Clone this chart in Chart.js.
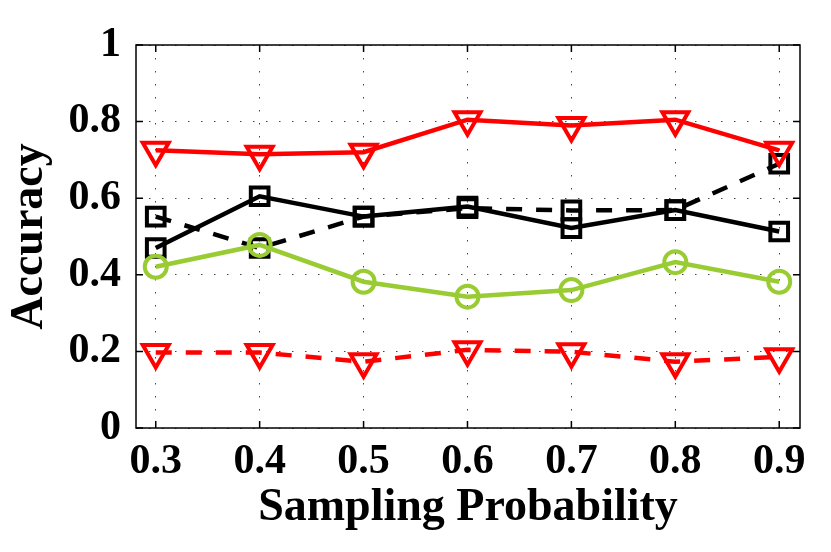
<!DOCTYPE html>
<html>
<head>
<meta charset="utf-8">
<script src="https://cdn.jsdelivr.net/npm/chart.js@4/dist/chart.umd.min.js"></script>
<style>
  html, body { margin: 0; padding: 0; background: #fff; }
  #wrap { width: 831px; height: 552px; position: relative; }
</style>
</head>
<body>
<div id="wrap"><canvas id="accChart" width="831" height="552"></canvas></div>
<script>
// Данные
const probs = [0.3, 0.4, 0.5, 0.6, 0.7, 0.8, 0.9];
const xTickLabels = ['0.3', '0.4', '0.5', '0.6', '0.7', '0.8', '0.9'];
const yTickLabels = ['0', '0.2', '0.4', '0.6', '0.8', '1'];

const redSolid   = [0.725, 0.715, 0.720, 0.805, 0.790, 0.805, 0.725];
const blackSolid = [0.470, 0.605, 0.552, 0.578, 0.522, 0.569, 0.513];
const blackDash  = [0.552, 0.470, 0.552, 0.574, 0.568, 0.569, 0.690];
const greenSolid = [0.421, 0.478, 0.382, 0.343, 0.360, 0.433, 0.382];
const redDash    = [0.197, 0.197, 0.173, 0.204, 0.199, 0.173, 0.186];

const RED = '#ff0000';
const GREEN = '#99cc33';
const FONT = '"Liberation Serif", "Times New Roman", serif';

function pts(vals) {
    return vals.map((v, i) => ({ x: probs[i], y: v }));
}

function series(label, vals, color, style, dashed, radius, order) {
    return {
        label: label,
        data: pts(vals),
        borderColor: color,
        backgroundColor: 'rgba(0,0,0,0)',
        borderWidth: 4.5,
        borderDash: dashed ? [16, 14] : [],
        pointStyle: style,
        pointRotation: style === 'triangle' ? 180 : 0,
        pointRadius: radius,
        pointBorderWidth: 4,
        pointBorderColor: color,
        pointBackgroundColor: 'rgba(0,0,0,0)',
        tension: 0,
        fill: false,
        order: order
    };
}

// Рамка и внутренние засечки как в MATLAB
const boxPlugin = {
    id: 'box',
    afterDraw(chart) {
        const { ctx, chartArea: a, scales: { x, y } } = chart;
        ctx.save();
        ctx.strokeStyle = '#000';
        ctx.lineWidth = 1.5;
        ctx.setLineDash([]);
        ctx.strokeRect(a.left, a.top, a.right - a.left, a.bottom - a.top);
        const t = 7;
        ctx.beginPath();
        probs.forEach(p => {
            const px = x.getPixelForValue(p);
            ctx.moveTo(px, a.bottom); ctx.lineTo(px, a.bottom - t);
            ctx.moveTo(px, a.top); ctx.lineTo(px, a.top + t);
        });
        yTickLabels.forEach(l => {
            const py = y.getPixelForValue(parseFloat(l));
            ctx.moveTo(a.left, py); ctx.lineTo(a.left + t, py);
            ctx.moveTo(a.right, py); ctx.lineTo(a.right - t, py);
        });
        ctx.stroke();
        ctx.restore();
    }
};

new Chart(document.getElementById('accChart').getContext('2d'), {
    type: 'line',
    data: {
        datasets: [
            series('redSolid', redSolid, RED, 'triangle', false, 15, 1),
            series('blackSolid', blackSolid, '#000', 'rect', false, 12.5, 3),
            series('blackDash', blackDash, '#000', 'rect', true, 12.5, 4),
            series('green', greenSolid, GREEN, 'circle', false, 11, 2),
            series('redDash', redDash, RED, 'triangle', true, 15, 5)
        ]
    },
    options: {
        responsive: false,
        animation: false,
        layout: { padding: { top: 45, right: 31, left: 0, bottom: 0 } },
        plugins: {
            legend: { display: false },
            tooltip: { enabled: false }
        },
        scales: {
            x: {
                type: 'linear',
                min: 0.281,
                max: 0.92,
                afterBuildTicks: s => { s.ticks = probs.map(v => ({ value: v })); },
                afterFit: s => { s.height = 124; },
                grid: { color: '#444', lineWidth: 1, drawTicks: false },
                border: { display: false, dash: [1.5, 11.5] },
                ticks: {
                    color: '#000',
                    padding: 9,
                    maxRotation: 0,
                    autoSkip: false,
                    font: { family: FONT, size: 42, weight: 'bold' },
                    callback: (v) => xTickLabels[probs.indexOf(v)]
                },
                title: {
                    display: true,
                    text: 'Sampling Probability',
                    color: '#000',
                    padding: { top: 0, bottom: 16 },
                    font: { family: FONT, size: 46, weight: 'bold' }
                }
            },
            y: {
                type: 'linear',
                min: 0,
                max: 1,
                afterBuildTicks: s => { s.ticks = yTickLabels.map(l => ({ value: parseFloat(l) })); },
                afterFit: s => { s.width = 136; },
                grid: { color: '#444', lineWidth: 1, drawTicks: false },
                border: { display: false, dash: [1.5, 11.5] },
                ticks: {
                    color: '#000',
                    padding: 15,
                    font: { family: FONT, size: 42, weight: 'bold' },
                    callback: (v) => yTickLabels.find(l => parseFloat(l) === v)
                },
                title: {
                    display: true,
                    text: 'Accuracy',
                    color: '#000',
                    padding: { top: 3, bottom: 0 },
                    font: { family: FONT, size: 46, weight: 'bold' }
                }
            }
        }
    },
    plugins: [boxPlugin]
});
</script>
</body>
</html>
